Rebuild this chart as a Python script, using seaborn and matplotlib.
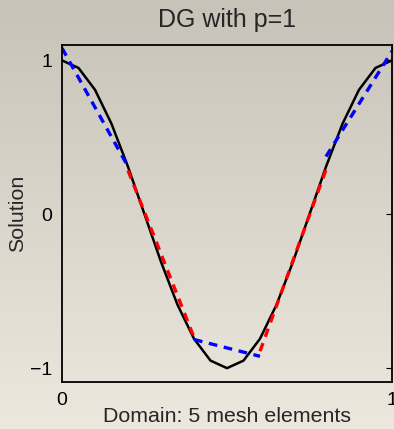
import numpy as np
import pandas as pd
import matplotlib
matplotlib.use("Agg")
import matplotlib.pyplot as plt
import seaborn as sns

x_exact = [0.0, 0.05, 0.1, 0.15, 0.2, 0.25, 0.3, 0.35, 0.4, 0.45, 0.5,
           0.55, 0.6, 0.65, 0.7, 0.75, 0.8, 0.85, 0.9, 0.95, 1.0]
u_exact = [1.0, 0.951, 0.809, 0.588, 0.309, 0.0, -0.309, -0.588, -0.809, -0.951, -1.0,
           -0.951, -0.809, -0.588, -0.309, 0.0, 0.309, 0.588, 0.809, 0.951, 1.0]

# DG p=1 solution: linear piece per element (left/right end values)
elem_left_x = [0.0, 0.2, 0.4, 0.6, 0.8]
elem_right_x = [0.2, 0.4, 0.6, 0.8, 1.0]
elem_left_u = [1.08, 0.285, -0.814, -0.89, 0.375]
elem_right_u = [0.31, -0.80, -0.923, 0.29, 1.06]
elem_colors = ["#0000FF", "#FF0000", "#0000FF", "#FF0000", "#0000FF"]

title = "DG with p=1"
xlabel = "Domain: 5 mesh elements"
ylabel = "Solution"
xticks = [0, 1]
yticks = [-1, 0, 1]

sns.set_style("white")
plt.rcParams["font.family"] = ["Liberation Sans", "DejaVu Sans"]

W, H = 394, 429
fig = plt.figure(figsize=(W / 100, H / 100), dpi=100)

# gradient background
bg = fig.add_axes([0, 0, 1, 1], zorder=-10)
top = np.array([199, 195, 184]) / 255.0
bot = np.array([236, 232, 222]) / 255.0
t = np.linspace(0, 1, 256)[:, None]
grad = (top[None, :] * (1 - t) + bot[None, :] * t)[:, None, :]
bg.imshow(grad, aspect="auto", extent=[0, 1, 0, 1])
bg.set_axis_off()

ax = fig.add_axes([62 / W, 1 - 382 / H, (392 - 62) / W, (382 - 45) / H])
ax.set_facecolor("none")

df_exact = pd.DataFrame({"x": x_exact, "u": u_exact})
sns.lineplot(data=df_exact, x="x", y="u", ax=ax, color="black", linewidth=1.8,
             sort=False, estimator=None)

for xl, xr, ul, ur, c in zip(elem_left_x, elem_right_x, elem_left_u, elem_right_u, elem_colors):
    d = pd.DataFrame({"x": [xl, xr], "u": [ul, ur]})
    sns.lineplot(data=d, x="x", y="u", ax=ax, color=c, linewidth=2.4,
                 linestyle=(0, (2.6, 2.0)), sort=False, estimator=None)

ax.set_xlim(0, 1)
ax.set_ylim(-1.09, 1.1)
ax.set_xticks(xticks)
ax.set_xticklabels([str(v) for v in xticks])
ax.set_yticks(yticks)
ax.set_yticklabels(["\u22121", "0", "1"])
ax.tick_params(direction="in", length=4, width=0.8, top=True, right=True,
               labelsize=14, colors="black", pad=7)
for s in ax.spines.values():
    s.set_visible(True)
    s.set_color("black")
    s.set_linewidth(1.3)

ax.set_title(title, fontsize=18, pad=13)
ax.set_xlabel(xlabel, fontsize=15.4, labelpad=-1)
ax.set_ylabel(ylabel, fontsize=15.4, labelpad=2)

fig.savefig("out.png", dpi=100)
